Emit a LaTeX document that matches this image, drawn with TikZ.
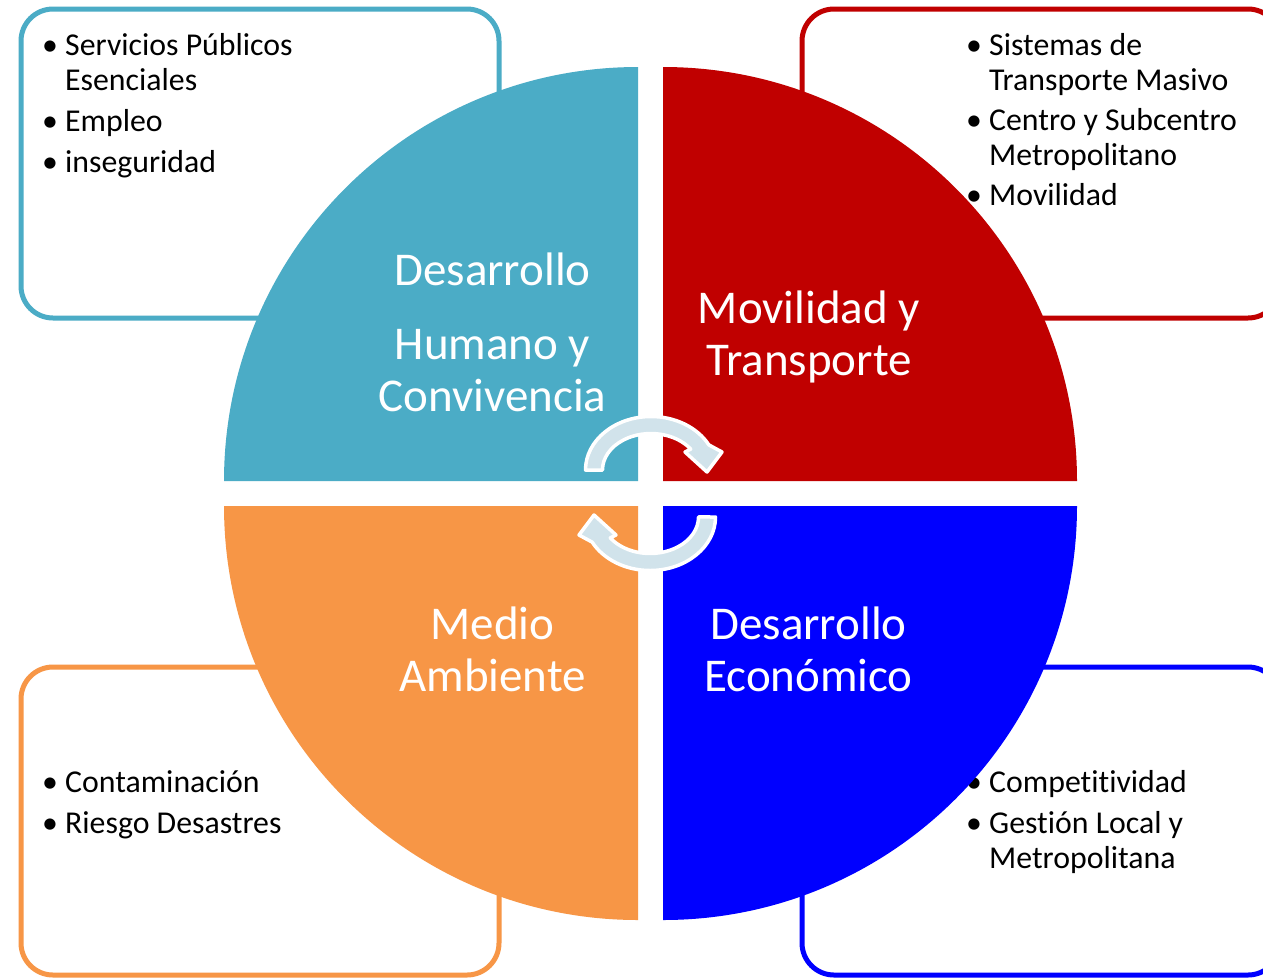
\documentclass[tikz,border=0pt]{standalone}
\usepackage{fontspec}
\setmainfont{Carlito}[Ligatures=NoCommon]
\usepackage{tikz}
\usetikzlibrary{calc}
\definecolor{tealq}{rgb}{0.294,0.675,0.776}
\definecolor{redq}{rgb}{0.753,0.,0.}
\definecolor{orangeq}{rgb}{0.969,0.588,0.275}
\definecolor{blueq}{rgb}{0.,0.,1.}
\definecolor{arrowq}{rgb}{0.82,0.89,0.92}
\newcommand{\listfont}{\fontsize{31.8}{35}\selectfont}
\newcommand{\bigfont}{\fontsize{47}{52}\selectfont}
\newcommand{\bul}{\makebox[23pt][l]{\textbullet}}
\newcommand{\cyclearrow}{%
  \filldraw [fill=arrowq,draw=white,line width=3.5pt,line join=round] (585.5,470) arc[start angle=180,end angle=332,x radius=65.5,y radius=53.5] -- (722,452) -- (707,472) -- (685,452) -- (690.7,449.1) arc[start angle=325,end angle=180,x radius=48.5,y radius=36.5] -- cycle;}
\tikzset{every node/.style={inner sep=0pt}}

\begin{document}
\begin{tikzpicture}[line cap=round,line join=round,x=1pt,y=-1pt]
            \clip (0,0) rectangle (1263,978);
            \fill [white] (0,0) rectangle (1263,978);
            \draw [line width=5pt,color=tealq,rounded corners=32pt] (21,9) rectangle (499,318);
            \draw [line width=5pt,color=redq,rounded corners=32pt] (802,9) rectangle (1280,318);
            \draw [line width=5pt,color=orangeq,rounded corners=32pt] (21,667) rectangle (499,975);
            \draw [line width=5pt,color=blueq,rounded corners=32pt] (802,667) rectangle (1280,975);
            \node (listhumano) [anchor=base west] at (42,55) {\listfont\begin{tabular}[t]{@{}l@{}l@{}}\bul & Servicios Públicos\\ & Esenciales\\[6pt] \bul & Empleo\\[6pt] \bul & inseguridad\end{tabular}};
            \node (listmovilidad) [anchor=base west] at (966,55) {\listfont\begin{tabular}[t]{@{}l@{}l@{}}\bul & Sistemas de\\ & Transporte Masivo\\[5pt] \bul & Centro y Subcentro\\ & Metropolitano\\[5pt] \bul & Movilidad\end{tabular}};
            \node (listambiente) [anchor=base west] at (42,792) {\listfont\begin{tabular}[t]{@{}l@{}l@{}}\bul & Contaminación\\[6pt] \bul & Riesgo Desastres\end{tabular}};
            \node (listeconomico) [anchor=base west] at (966,792) {\listfont\begin{tabular}[t]{@{}l@{}l@{}}\bul & Competitividad\\[6pt] \bul & Gestión Local y\\ & Metropolitana\end{tabular}};
            % quadrants
            \fill [tealq] (638,481) -- (224,481) arc[start angle=180,end angle=270,radius=414] -- cycle;
            \fill [redq] (663,481) -- (663,67) arc[start angle=270,end angle=360,radius=414] -- cycle;
            \fill [blueq] (663,506) -- (1077,506) arc[start angle=0,end angle=90,radius=414] -- cycle;
            \fill [orangeq] (638,506) -- (638,920) arc[start angle=90,end angle=180,radius=414] -- cycle;
            \node (humano) [anchor=base,text=white] at (492.5,285) {\bigfont\begin{tabular}[t]{@{}c@{}}Desarrollo\\[22pt] Humano y\\ Convivencia\end{tabular}};
            \node (movilidad) [anchor=base,text=white] at (809,323) {\bigfont\begin{tabular}[t]{@{}c@{}}Movilidad y\\ Transporte\end{tabular}};
            \node (ambiente) [anchor=base,text=white] at (492.5,639) {\bigfont\begin{tabular}[t]{@{}c@{}}Medio\\ Ambiente\end{tabular}};
            \node (economico) [anchor=base,text=white] at (808.5,639) {\bigfont\begin{tabular}[t]{@{}c@{}}Desarrollo\\ Económico\end{tabular}};
            % cycle arrows
            \cyclearrow
            \begin{scope}[rotate around={180:(650.5,493.5)}]
            \cyclearrow
            \end{scope}
\end{tikzpicture}
\end{document}
